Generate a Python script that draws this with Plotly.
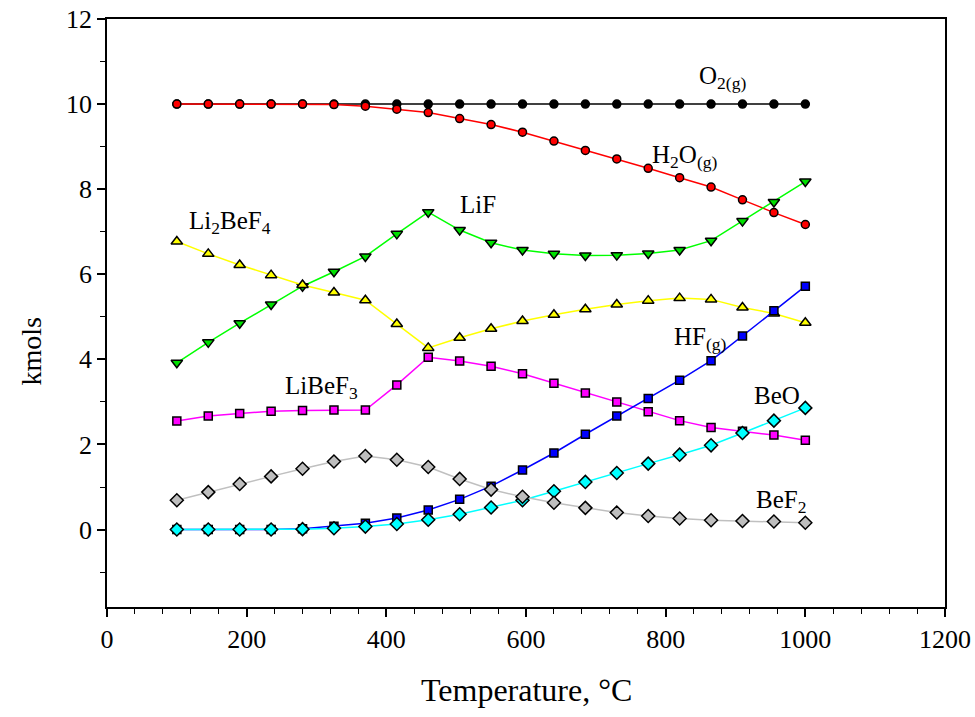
import plotly.graph_objects as go

temperature = [100, 145, 190, 235, 280, 325, 370, 415, 460, 505, 550, 595, 640, 685, 730, 775, 820, 865, 910, 955, 1000]

o2 = [10.0] * 21
h2o = [10.0, 10.0, 10.0, 10.0, 10.0, 9.99, 9.95, 9.88, 9.80, 9.66, 9.52, 9.34, 9.13, 8.91, 8.71, 8.49, 8.27, 8.05, 7.75, 7.45, 7.17]
lif = [3.92, 4.40, 4.85, 5.29, 5.72, 6.06, 6.42, 6.95, 7.46, 7.04, 6.74, 6.57, 6.48, 6.44, 6.45, 6.49, 6.57, 6.79, 7.25, 7.70, 8.18]
li2bef4 = [6.77, 6.48, 6.22, 5.98, 5.75, 5.57, 5.39, 4.83, 4.27, 4.51, 4.72, 4.90, 5.05, 5.18, 5.29, 5.38, 5.44, 5.41, 5.22, 5.08, 4.86]
libef3 = [2.55, 2.67, 2.73, 2.78, 2.80, 2.81, 2.81, 3.40, 4.05, 3.96, 3.84, 3.66, 3.44, 3.21, 3.00, 2.77, 2.56, 2.40, 2.31, 2.22, 2.10]
hf = [0.0, 0.0, 0.0, 0.0, 0.02, 0.08, 0.15, 0.27, 0.46, 0.71, 1.02, 1.40, 1.80, 2.24, 2.67, 3.08, 3.51, 3.97, 4.55, 5.14, 5.72]
beo = [0.0, 0.0, 0.0, 0.0, 0.01, 0.03, 0.07, 0.13, 0.23, 0.36, 0.52, 0.69, 0.90, 1.12, 1.33, 1.55, 1.76, 1.98, 2.27, 2.56, 2.86]
bef2 = [0.69, 0.88, 1.07, 1.25, 1.43, 1.60, 1.73, 1.64, 1.47, 1.19, 0.94, 0.77, 0.63, 0.51, 0.40, 0.32, 0.26, 0.22, 0.20, 0.19, 0.16]

series = [
    ("O2", o2, "#000000", "#000000", "circle", 8),
    ("H2O", h2o, "#FF0000", "#FF0000", "circle", 8),
    ("LiF", lif, "#00FF00", "#00E000", "triangle-down", 10),
    ("Li2BeF4", li2bef4, "#FFFF00", "#FFFF00", "triangle-up", 10),
    ("LiBeF3", libef3, "#FF00FF", "#FF00FF", "square", 8),
    ("HF", hf, "#0000FF", "#0000FF", "square", 8),
    ("BeO", beo, "#00FFFF", "#00FFFF", "diamond", 10),
    ("BeF2", bef2, "#C0C0C0", "#BEBEBE", "diamond", 10),
]

labels = [
    ("O<sub>2(g)</sub>", 845, 10.62),
    ("H<sub>2</sub>O<sub>(g)</sub>", 778, 8.77),
    ("LiF", 503, 7.65),
    ("Li<sub>2</sub>BeF<sub>4</sub>", 114, 7.22),
    ("LiBeF<sub>3</sub>", 252, 3.35),
    ("HF<sub>(g)</sub>", 809, 4.50),
    ("BeO", 924, 3.15),
    ("BeF<sub>2</sub>", 927, 0.65),
]

fig = go.Figure()
for name, vals, lc, mc, sym, sz in series:
    fig.add_trace(go.Scatter(
        x=temperature, y=vals, mode="lines+markers", name=name,
        line=dict(color=lc, width=1.5),
        marker=dict(symbol=sym, size=sz, color=mc, line=dict(color="#000000", width=1.5)),
        showlegend=False,
    ))

font_family = "Liberation Serif, Times New Roman, serif"
for txt, xv, yv in labels:
    fig.add_annotation(x=xv, y=yv, text=txt, showarrow=False, xanchor="left", yanchor="middle",
                       font=dict(family=font_family, size=25, color="#000000"))

W, H = 975, 717
ML, MR, MT, MB = 106.5, 30, 19.3, 110.3
pw, ph = W - ML - MR, H - MT - MB

fig.add_annotation(x=(526 - ML) / pw, y=(H - MB - 690) / ph, xref="paper", yref="paper",
                   text="Temperature, °C", showarrow=False, xanchor="center", yanchor="middle",
                   font=dict(family=font_family, size=32, color="#000000"))
fig.add_annotation(x=(30 - ML) / pw, y=(H - MB - 352) / ph, xref="paper", yref="paper",
                   text="kmols", showarrow=False, textangle=-90, xanchor="center", yanchor="middle",
                   font=dict(family=font_family, size=28, color="#000000"))

fig.update_layout(
    width=W, height=H,
    margin=dict(l=ML, r=MR, t=MT, b=MB, autoexpand=False),
    paper_bgcolor="white", plot_bgcolor="white",
    font=dict(family=font_family, size=26, color="#000000"),
    xaxis=dict(range=[0, 1200], tick0=0, dtick=200, showgrid=False, zeroline=False,
               showline=True, linecolor="#000000", linewidth=1.5, mirror=True,
               ticks="outside", ticklen=8, tickwidth=1.5, tickcolor="#000000",
               tickfont=dict(family=font_family, size=26), automargin=False,
               ticklabeloverflow="allow",
               minor=dict(dtick=40, tick0=0, ticks="outside", ticklen=5, tickwidth=1.2, tickcolor="#000000", showgrid=False)),
    yaxis=dict(range=[-1.82, 12], tick0=0, dtick=2, showgrid=False, zeroline=False,
               showline=True, linecolor="#000000", linewidth=1.5, mirror=True,
               ticks="outside", ticklen=8, tickwidth=1.5, tickcolor="#000000",
               tickfont=dict(family=font_family, size=26), automargin=False,
               ticklabeloverflow="allow",
               minor=dict(dtick=1, tick0=0, ticks="outside", ticklen=5, tickwidth=1.2, tickcolor="#000000", showgrid=False)),
)

fig.write_html("out.html")
